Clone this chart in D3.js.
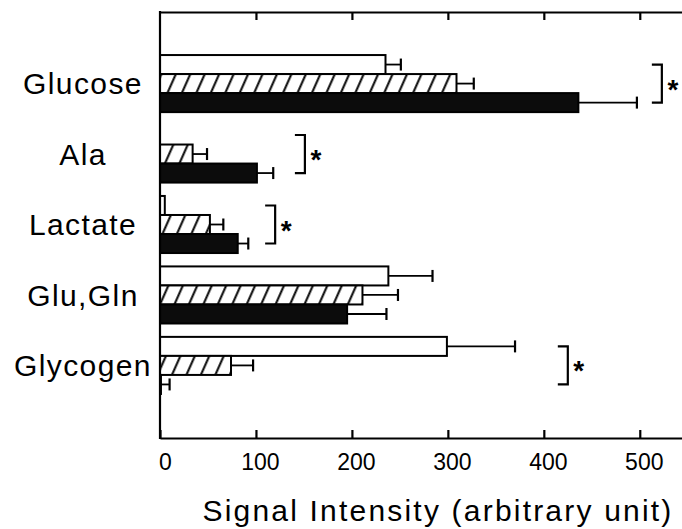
<!DOCTYPE html>
<html><head><meta charset="utf-8">
<script src="https://cdn.jsdelivr.net/npm/d3@7"></script>
<style>body{margin:0;background:#fff}svg{display:block}</style>
</head><body>
<svg id="c" width="682" height="529"></svg>
<script>
const categories = ["Glucose", "Ala", "Lactate", "Glu,Gln", "Glycogen"];
const seriesNames = ["open", "hatched", "solid"];
const openValues    = [235, 0, 5, 238, 299];
const openErrors    = [16, 0, 0, 46, 71];
const hatchedValues = [309, 34, 52, 211, 74];
const hatchedErrors = [18, 15, 14, 37, 23];
const solidValues   = [436, 101, 81, 195, 1];
const solidErrors   = [61, 17, 11, 41, 9];
const tickValues = [0, 100, 200, 300, 400, 500];
const sigBrackets = [
  {cat: "Glucose", from: 0, to: 2, at: 523},
  {cat: "Ala", from: 0, to: 2, at: 151},
  {cat: "Lactate", from: 0, to: 2, at: 120},
  {cat: "Glycogen", from: 0, to: 2, at: 425}
];
const xTitle = "Signal Intensity  (arbitrary unit)";

(function () {
const svg = d3.select("#c");
const font = "'Liberation Sans', Arial, Helvetica, sans-serif";
const pLeft = 160, pRight = 682, pTop = 12, pBottom = 438;

const x = d3.scaleLinear().domain([0, 544]).range([pLeft, pRight]);
const y = d3.scaleBand().domain(categories).range([48, 401]).paddingInner(0.19).paddingOuter(0.1);
const ys = d3.scaleBand().domain([0, 1, 2]).range([0, y.bandwidth()]);

const defs = svg.append("defs");
const pat = defs.append("pattern").attr("id", "hatch").attr("patternUnits", "userSpaceOnUse")
  .attr("width", 13.2).attr("height", 10).attr("patternTransform", "rotate(24)");
pat.append("rect").attr("width", 13.2).attr("height", 10).attr("fill", "#fff");
pat.append("line").attr("x1", 6).attr("x2", 6).attr("y1", -1).attr("y2", 11)
  .attr("stroke", "#000").attr("stroke-width", 2);

const fills = ["#fff", "url(#hatch)", "#0c0c0c"];
const series = [
  {vals: openValues, errs: openErrors},
  {vals: hatchedValues, errs: hatchedErrors},
  {vals: solidValues, errs: solidErrors}
];

const rows = [];
categories.forEach((c, i) => series.forEach((s, k) => rows.push({cat: c, k, v: s.vals[i], e: s.errs[i]})));

const g = svg.append("g");
rows.filter(d => d.e > 0).forEach(d => {
  const cy = y(d.cat) + ys(d.k) + ys.bandwidth() / 2;
  g.append("line").attr("x1", x(d.v)).attr("x2", x(d.v + d.e)).attr("y1", cy).attr("y2", cy)
    .attr("stroke", "#000").attr("stroke-width", 1.8);
  g.append("line").attr("x1", x(d.v + d.e)).attr("x2", x(d.v + d.e)).attr("y1", cy - 6).attr("y2", cy + 6)
    .attr("stroke", "#000").attr("stroke-width", 2.2);
});
g.selectAll("rect.bar").data(rows).join("rect").attr("class", "bar")
  .attr("x", x(0)).attr("y", d => y(d.cat) + ys(d.k))
  .attr("width", d => x(d.v) - x(0)).attr("height", ys.bandwidth())
  .attr("fill", d => fills[d.k]).attr("stroke", "#000").attr("stroke-width", 2);

const axT = svg.append("g").attr("transform", `translate(0,${pTop})`)
  .call(d3.axisTop(x).tickValues(tickValues.slice(1)).tickSizeInner(-8).tickSizeOuter(0).tickFormat(""));
const axB = svg.append("g").attr("transform", `translate(0,${pBottom})`)
  .call(d3.axisBottom(x).tickValues(tickValues).tickSizeInner(-8).tickSizeOuter(0).tickPadding(16));
[axT, axB].forEach(a => {
  a.select(".domain").attr("stroke-width", 2.2);
  a.selectAll(".tick line").attr("stroke-width", 2.2);
});
axB.selectAll(".tick text").attr("font-family", font).attr("font-size", 23).attr("fill", "#000")
  .attr("dx", (d, i) => i === 0 ? 5 : 4);
svg.append("line").attr("x1", pLeft).attr("x2", pLeft).attr("y1", pTop - 1).attr("y2", pBottom + 1)
  .attr("stroke", "#000").attr("stroke-width", 2.2);

svg.selectAll("text.cat").data(categories).join("text").attr("class", "cat")
  .attr("x", 83).attr("y", d => y(d) + y.bandwidth() / 2).attr("dy", "0.36em")
  .attr("text-anchor", "middle").attr("font-family", font).attr("font-size", 30)
  .attr("letter-spacing", 1.4).text(d => d);

sigBrackets.forEach(b => {
  const y0 = y(b.cat) + ys(b.from) + ys.bandwidth() / 2;
  const y1 = y(b.cat) + ys(b.to) + ys.bandwidth() / 2;
  const bx = x(b.at);
  svg.append("path").attr("d", `M${bx - 10},${y0}H${bx}V${y1}H${bx - 10}`)
    .attr("fill", "none").attr("stroke", "#000").attr("stroke-width", 2.2);
  svg.append("text").attr("x", bx + 11).attr("y", (y0 + y1) / 2 + 15).attr("text-anchor", "middle")
    .attr("font-family", font).attr("font-size", 28).attr("font-weight", "bold").text("*");
});

svg.append("text").attr("x", 438).attr("y", 521).attr("text-anchor", "middle")
  .attr("font-family", font).attr("font-size", 30).attr("letter-spacing", 2.2).text(xTitle);
})();
</script>
</body></html>
